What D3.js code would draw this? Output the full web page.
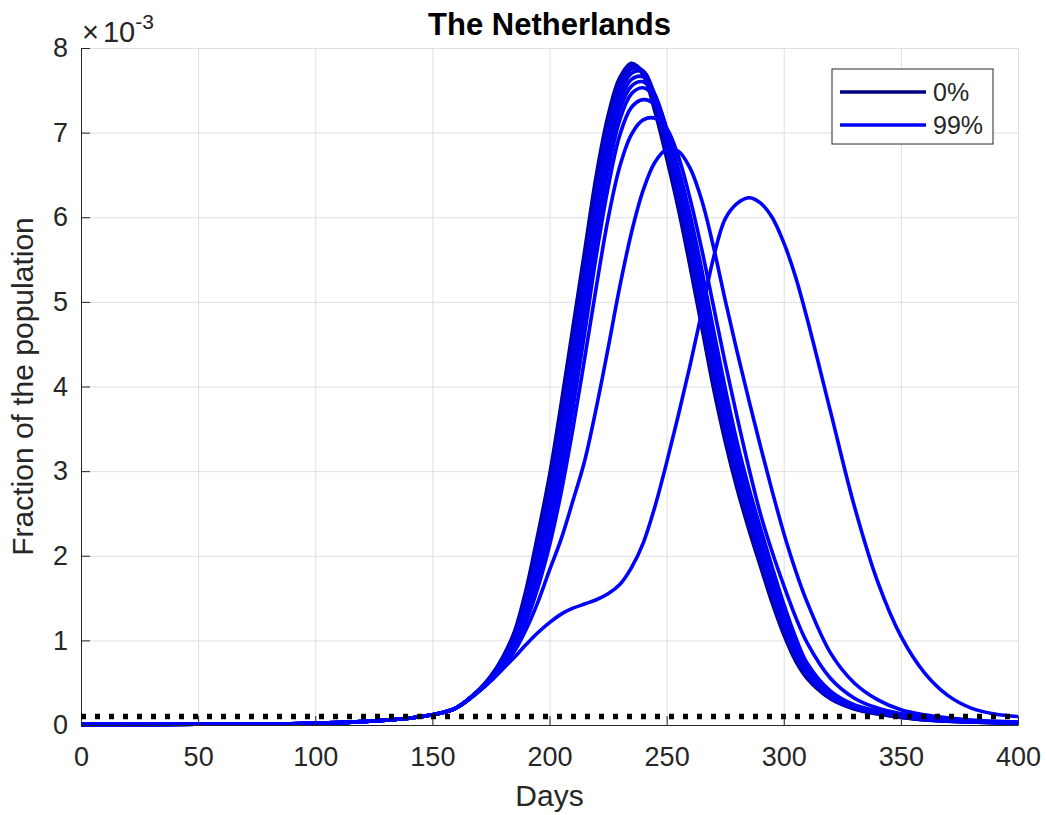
<!DOCTYPE html>
<html>
<head>
<meta charset="utf-8">
<script src="https://cdn.jsdelivr.net/npm/d3@7"></script>
<style>
body { margin: 0; background: #fff; }
svg { font-family: "Liberation Sans", Arial, Helvetica, sans-serif; }
.axis path, .axis line { stroke: #262626; stroke-width: 1; }
.axis text { fill: #262626; font-size: 27px; font-family: "Liberation Sans", Arial, sans-serif; }
.grid line { stroke: #dfdfdf; stroke-width: 1; }
.grid path { stroke: none; }
</style>
</head>
<body>
<div id="chart"></div>
<script>
var days = [0, 50, 100, 120, 140, 150, 160, 170, 175,
    180, 185, 190, 195, 200, 205, 210, 215, 220, 225, 230, 235, 240, 245,
    250, 255, 260, 265, 270, 275, 280, 285, 290, 295, 300, 305, 310,
    320, 330, 340, 350, 360, 370, 380, 390, 400];

// fraction of the population (x 1e-3), one array per percentage
var p00 = [.005,.008,.02,.04,.08,.12,.2,.42,.58, .8,1.1,1.6,2.25,2.95,3.8,4.7,5.6,6.5,7.2,7.65,7.82,7.68,7.25,6.7,6.1,5.42,4.7,3.98,3.35,2.8,2.32,1.88,1.45,1.07,.76,.55, .31,.19,.13,.09,.06,.045,.035,.027,.02];
var p10 = [.005,.008,.02,.04,.08,.12,.2,.42,.575, .79,1.08,1.56,2.19,2.88,3.72,4.62,5.52,6.42,7.14,7.62,7.81,7.71,7.3,6.76,6.16,5.49,4.77,4.05,3.41,2.85,2.37,1.92,1.49,1.1,.79,.57, .31,.195,.135,.093,.062,.046,.036,.028,.021];
var p20 = [.005,.008,.02,.04,.08,.12,.2,.415,.57, .78,1.06,1.52,2.13,2.81,3.64,4.53,5.43,6.34,7.08,7.58,7.78,7.72,7.34,6.81,6.23,5.56,4.84,4.11,3.47,2.9,2.41,1.97,1.53,1.14,.81,.58, .32,.2,.14,.095,.064,.047,.037,.029,.022];
var p30 = [.005,.008,.02,.04,.08,.12,.2,.415,.565, .77,1.04,1.48,2.06,2.73,3.55,4.43,5.33,6.24,7.0,7.52,7.75,7.73,7.39,6.88,6.3,5.64,4.93,4.2,3.54,2.96,2.46,2.02,1.58,1.18,.84,.6, .33,.205,.143,.098,.066,.049,.038,.03,.023];
var p40 = [.005,.008,.02,.04,.08,.12,.2,.41,.56, .76,1.02,1.44,2.0,2.65,3.45,4.32,5.22,6.13,6.9,7.45,7.7,7.72,7.44,6.95,6.38,5.72,5.02,4.28,3.61,3.02,2.52,2.07,1.63,1.22,.87,.62, .34,.21,.146,.1,.068,.05,.039,.031,.024];
var p50 = [.005,.008,.02,.04,.08,.12,.2,.41,.555, .75,1.0,1.4,1.93,2.56,3.34,4.2,5.1,6.02,6.8,7.37,7.63,7.66,7.45,7.0,6.44,5.8,5.1,4.36,3.68,3.08,2.58,2.12,1.68,1.26,.9,.64, .35,.215,.15,.103,.07,.052,.04,.032,.025];
var p60 = [.005,.008,.02,.04,.08,.12,.2,.41,.55, .74,.98,1.36,1.86,2.47,3.22,4.07,4.97,5.9,6.68,7.27,7.55,7.6,7.44,7.04,6.5,5.88,5.19,4.45,3.76,3.15,2.64,2.18,1.73,1.31,.94,.66, .36,.22,.155,.106,.072,.054,.041,.033,.026];
var p70 = [.005,.008,.02,.04,.08,.12,.2,.405,.545, .73,.96,1.32,1.79,2.37,3.09,3.93,4.83,5.76,6.55,7.15,7.46,7.53,7.41,7.05,6.55,5.96,5.28,4.55,3.85,3.23,2.71,2.24,1.79,1.36,.98,.69, .38,.23,.16,.11,.075,.056,.043,.034,.027];
var p80 = [.005,.008,.02,.04,.08,.12,.2,.405,.54, .72,.94,1.27,1.71,2.25,2.93,3.74,4.63,5.55,6.35,6.97,7.3,7.39,7.33,7.03,6.58,6.03,5.38,4.67,3.98,3.35,2.81,2.33,1.87,1.43,1.04,.73, .4,.24,.165,.115,.078,.058,.045,.035,.028];
var p90 = [.005,.008,.02,.04,.08,.12,.2,.4,.535, .71,.91,1.22,1.62,2.12,2.75,3.5,4.33,5.18,5.98,6.6,6.98,7.15,7.17,7.05,6.72,6.22,5.62,4.95,4.28,3.65,3.05,2.5,2.05,1.65,1.28,.97, .55,.32,.2,.135,.092,.067,.051,.04,.032];
var p95 = [.005,.008,.02,.04,.08,.12,.2,.4,.53, .69,.87,1.13,1.45,1.83,2.2,2.65,3.12,3.75,4.45,5.18,5.82,6.32,6.65,6.8,6.78,6.58,6.2,5.65,5.02,4.42,3.85,3.3,2.77,2.27,1.83,1.45, .85,.5,.3,.18,.12,.085,.06,.045,.035];
var p99 = [.005,.008,.02,.04,.08,.12,.2,.4,.52, .66,.8,.95,1.09,1.21,1.31,1.38,1.43,1.48,1.55,1.66,1.86,2.15,2.58,3.1,3.66,4.25,4.88,5.52,5.98,6.16,6.23,6.17,6.0,5.7,5.3,4.8, 3.7,2.6,1.7,1.05,.62,.35,.2,.13,.1];

var percents = [0, 10, 20, 30, 40, 50, 60, 70, 80, 90, 95, 99];
var curves = [p00, p10, p20, p30, p40, p50, p60, p70, p80, p90, p95, p99];
var legendItems = ["0%", "99%"];

var icuLevel = 0.1;      // dotted capacity line (x 1e-3)
var xTicks = [0, 50, 100, 150, 200, 250, 300, 350, 400];
var yTicks = [0, 1, 2, 3, 4, 5, 6, 7, 8];

var width = 1047,
    height = 815,
    margin = { left: 81, right: 29, top: 48, bottom: 90 };

var drawWidth = width - margin.left - margin.right;
var drawHeight = height - margin.top - margin.bottom;

var x = d3.scaleLinear().domain([0, 400]).range([0, drawWidth]);
var y = d3.scaleLinear().domain([0, 8]).range([drawHeight, 0]);
var color = d3.scalePow().exponent(0.25).domain([0, 99]).range(["#000080", "#0000ff"]);

var svg = d3.select("#chart").append("svg")
    .attr("width", width)
    .attr("height", height);

var g = svg.append("g")
    .attr("transform", "translate(" + margin.left + "," + margin.top + ")");

// grid
g.append("g")
    .attr("class", "grid")
    .attr("transform", "translate(0," + drawHeight + ")")
    .call(d3.axisBottom(x).tickValues(xTicks).tickSize(-drawHeight).tickFormat(""));

g.append("g")
    .attr("class", "grid")
    .call(d3.axisLeft(y).tickValues(yTicks).tickSize(-drawWidth).tickFormat(""));

// curves
var line = d3.line()
    .x(function(d) { return x(d[0]); })
    .y(function(d) { return y(d[1]); })
    .curve(d3.curveCatmullRom);

g.selectAll(".curve")
    .data(curves)
    .enter().append("path")
    .attr("class", "curve")
    .attr("fill", "none")
    .attr("stroke", function(d, i) { return color(percents[i]); })
    .attr("stroke-width", 3.6)
    .attr("d", function(vals) {
        return line(days.map(function(day, i) { return [day, vals[i]]; }));
    });

// axes
g.append("g")
    .attr("class", "axis")
    .attr("transform", "translate(0," + drawHeight + ")")
    .call(d3.axisBottom(x).tickValues(xTicks).tickSizeInner(-9).tickSizeOuter(0).tickPadding(22));

g.append("g")
    .attr("class", "axis")
    .call(d3.axisLeft(y).tickValues(yTicks).tickSizeInner(-9).tickSizeOuter(0).tickPadding(13));

// capacity line
g.append("line")
    .attr("x1", x(0))
    .attr("x2", x(400))
    .attr("y1", y(icuLevel))
    .attr("y2", y(icuLevel))
    .attr("stroke", "#000")
    .attr("stroke-width", 5.5)
    .attr("stroke-dasharray", "5,9");

// exponent
var expo = svg.append("text")
    .attr("x", margin.left + 1)
    .attr("y", 42)
    .attr("fill", "#262626")
    .style("font-size", "29px");
expo.append("tspan").style("font-weight", "300").text("\u00d7");
expo.append("tspan").attr("dx", 4).text("10");
expo.append("tspan").attr("dy", -13).style("font-size", "21px").text("-3");

// title and labels
svg.append("text")
    .attr("x", margin.left + drawWidth / 2)
    .attr("y", 35)
    .attr("text-anchor", "middle")
    .style("font-size", "31px")
    .style("font-weight", "bold")
    .text("The Netherlands");

svg.append("text")
    .attr("x", margin.left + drawWidth / 2)
    .attr("y", 806)
    .attr("text-anchor", "middle")
    .attr("fill", "#262626")
    .style("font-size", "30px")
    .text("Days");

svg.append("text")
    .attr("transform", "translate(33," + (margin.top + drawHeight / 2) + ") rotate(-90)")
    .attr("text-anchor", "middle")
    .attr("fill", "#262626")
    .style("font-size", "30px")
    .text("Fraction of the population");

// legend
var legend = svg.append("g").attr("transform", "translate(832,69)");

legend.append("rect")
    .attr("width", 161)
    .attr("height", 75)
    .attr("fill", "#fff")
    .attr("stroke", "#262626")
    .attr("stroke-width", 1);

var legendColors = [color(percents[0]), color(percents[percents.length - 1])];

legendItems.forEach(function(label, i) {
    var ly = 23 + i * 33;
    legend.append("line")
        .attr("x1", 8).attr("x2", 94)
        .attr("y1", ly).attr("y2", ly)
        .attr("stroke", legendColors[i])
        .attr("stroke-width", 3.6);
    legend.append("text")
        .attr("x", 101)
        .attr("y", ly + 9)
        .attr("fill", "#262626")
        .style("font-size", "25px")
        .text(label);
});
</script>
</body>
</html>
